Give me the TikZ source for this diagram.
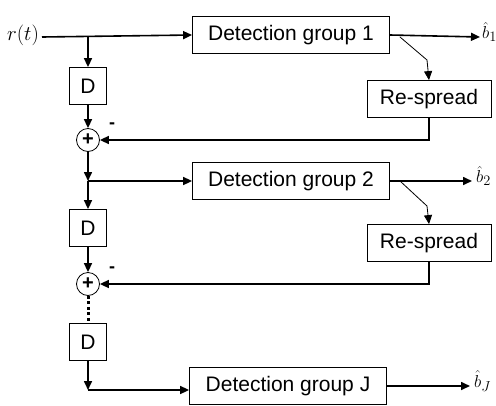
\documentclass[tikz,border=0pt]{standalone}
\usepackage{fontspec}
\setsansfont{Liberation Sans}
\usetikzlibrary{arrows.meta}
\begin{document}
\begin{tikzpicture}[x=1pt,y=-1pt,
  blockstyle/.style={rectangle,draw,line width=0.8pt,inner sep=0pt,font=\sffamily\fontsize{21}{24}\selectfont},
  delaystyle/.style={blockstyle,minimum width=37pt,minimum height=37pt},
  detstyle/.style={blockstyle,minimum width=197pt,minimum height=37pt},
  spreadstyle/.style={blockstyle,minimum width=124pt,minimum height=37pt},
  sumstyle/.style={circle,draw,line width=0.8pt,inner sep=0pt,minimum size=23pt,font=\sffamily\bfseries\fontsize{20}{20}\selectfont},
  signstyle/.style={inner sep=0pt,font=\sffamily\bfseries\fontsize{18}{20}\selectfont},
  sig/.style={line width=1.6pt,-{Triangle[length=9pt,width=8pt]}},
  tap/.style={line width=0.8pt,-{Triangle[length=9pt,width=8pt]}},
  mathlabel/.style={inner sep=0pt,font=\fontsize{20}{24}\selectfont},
  outlabel/.style={inner sep=0pt,anchor=west,font=\fontsize{19}{22}\selectfont}]
\useasboundingbox (0,0) rectangle (496,405);
\node[mathlabel] (rt) at (23,35) {$r(t)$};
\coordinate (in) at (42,37);
\coordinate (j1) at (88,37);
\node[detstyle] (det1) at (291,35) {Detection group 1};
\node[delaystyle] (d1) at (88,86) {D};
\node[sumstyle] (sum1) at (88,140) {+};
\node[signstyle] (m1) at (112,126) {-};
\node[spreadstyle] (rs1) at (429,99) {Re-spread};
\coordinate (j2) at (88,181);
\node[detstyle] (det2) at (291,181) {Detection group 2};
\node[delaystyle] (d2) at (88,228) {D};
\node[sumstyle] (sum2) at (88,284) {+};
\node[signstyle] (m2) at (112,270) {-};
\node[spreadstyle] (rs2) at (429,243) {Re-spread};
\node[delaystyle] (d3) at (88,342) {D};
\coordinate (jJ) at (88,390);
\node[detstyle] (detJ) at (288,386) {Detection group J};
\coordinate (o1) at (480,37);
\coordinate (o2) at (472,181);
\coordinate (oJ) at (470,386);
\node[outlabel] (b1) at (482,32) {$\hat{b}_1$};
\node[outlabel] (b2) at (476,176) {$\hat{b}_2$};
\node[outlabel] (bJ) at (474,381) {$\hat{b}_J$};
\coordinate (t1) at (400,37);
\coordinate (k1) at (427,60);
\coordinate (t2) at (400,181);
\coordinate (k2) at (427,206);
\draw[sig] (in) -- (det1.west);
\draw[sig] (j1) -- (d1.north);
\draw[sig] (d1.south) -- (sum1.north);
\draw[sig] (sum1.south) -- (j2);
\draw[sig] (j2) -- (det2.west);
\draw[sig] (j2) -- (d2.north);
\draw[sig] (d2.south) -- (sum2.north);
\draw[line width=3pt,dash pattern=on 3pt off 2.5pt] (sum2.south) -- (d3.north);
\draw[sig] (d3.south) -- (jJ);
\draw[sig] (jJ) -- (detJ.west |- jJ);
\draw[sig] (det1.east) -- (o1);
\draw[sig] (det2.east) -- (o2);
\draw[sig] (detJ.east) -- (oJ);
\draw[tap] (t1) -- (k1) -- (rs1.north);
\draw[tap] (t2) -- (k2) -- (rs2.north);
\draw[sig] (rs1.south) |- (sum1.east);
\draw[sig] (rs2.south) |- (sum2.east);
\end{tikzpicture}
\end{document}
